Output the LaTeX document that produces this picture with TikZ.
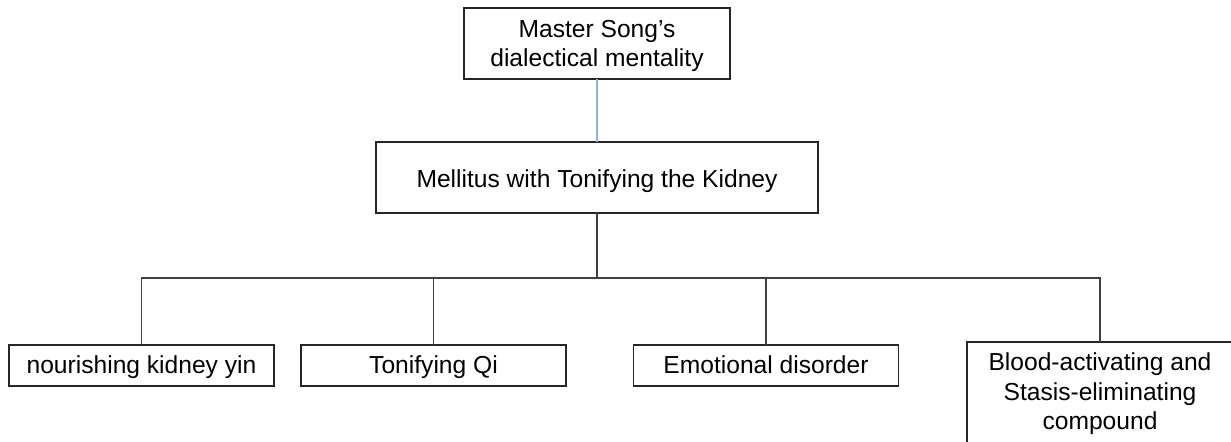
\documentclass[tikz,border=0pt]{standalone}
\usepackage{fontspec}
\setmainfont{Liberation Sans}
\usepackage{xcolor}
\usetikzlibrary{positioning, calc}
\definecolor{linkblue}{RGB}{142,180,227}
\tikzset{
  treebox/.style={
    draw=black!85, line width=0.7pt, fill=white, align=center,
    inner sep=0pt, outer sep=0pt,
    font=\fontsize{12.3}{14.8}\selectfont
  },
  leafbox/.style={
    treebox, minimum width=132.5pt, minimum height=20.5pt,
    text height=10pt, text depth=2.5pt
  },
  treelink/.style={draw=black!75, line width=0.7pt},
  toplink/.style={draw=linkblue, line width=0.6pt},
}

\begin{document}
\begin{tikzpicture}[x=0.5pt, y=-0.5pt]
  \clip (0,0) rectangle (1231,441);
  \fill[white] (0,0) rectangle (1231,441);

  % -- upper levels --
  \node[treebox, minimum width=133pt, minimum height=35.5pt]
    (master) at (597,43.5) {\rule{0pt}{11pt}Master Song's\\dialectical mentality};
  \node[treebox, minimum width=221pt, minimum height=35.5pt,
        text height=11pt, text depth=1.5pt]
    (mellitus) at (597,177.5) {Mellitus with Tonifying the Kidney};

  % -- leaves --
  \node[leafbox] (yin)   at (141.5,365.5) {nourishing kidney yin};
  \node[leafbox] (qi)    at (433.5,365.5) {Tonifying Qi};
  \node[leafbox] (emo)   at (766,365.5)   {Emotional disorder};
  \node[treebox, minimum width=133pt, minimum height=52pt]
    (blood) at (1100,394) {Blood-activating and\\Stasis-eliminating\\compound};

  % -- links --
  \coordinate (bus) at (597,278);
  \draw[toplink] (master) -- (mellitus);
  \draw[treelink] (mellitus.south) -- (bus) -| (yin.north);
  \draw[treelink] (bus) -| (qi.north);
  \draw[treelink] (bus) -| (emo.north);
  \draw[treelink] (bus) -| (blood.north);
\end{tikzpicture}
\end{document}
